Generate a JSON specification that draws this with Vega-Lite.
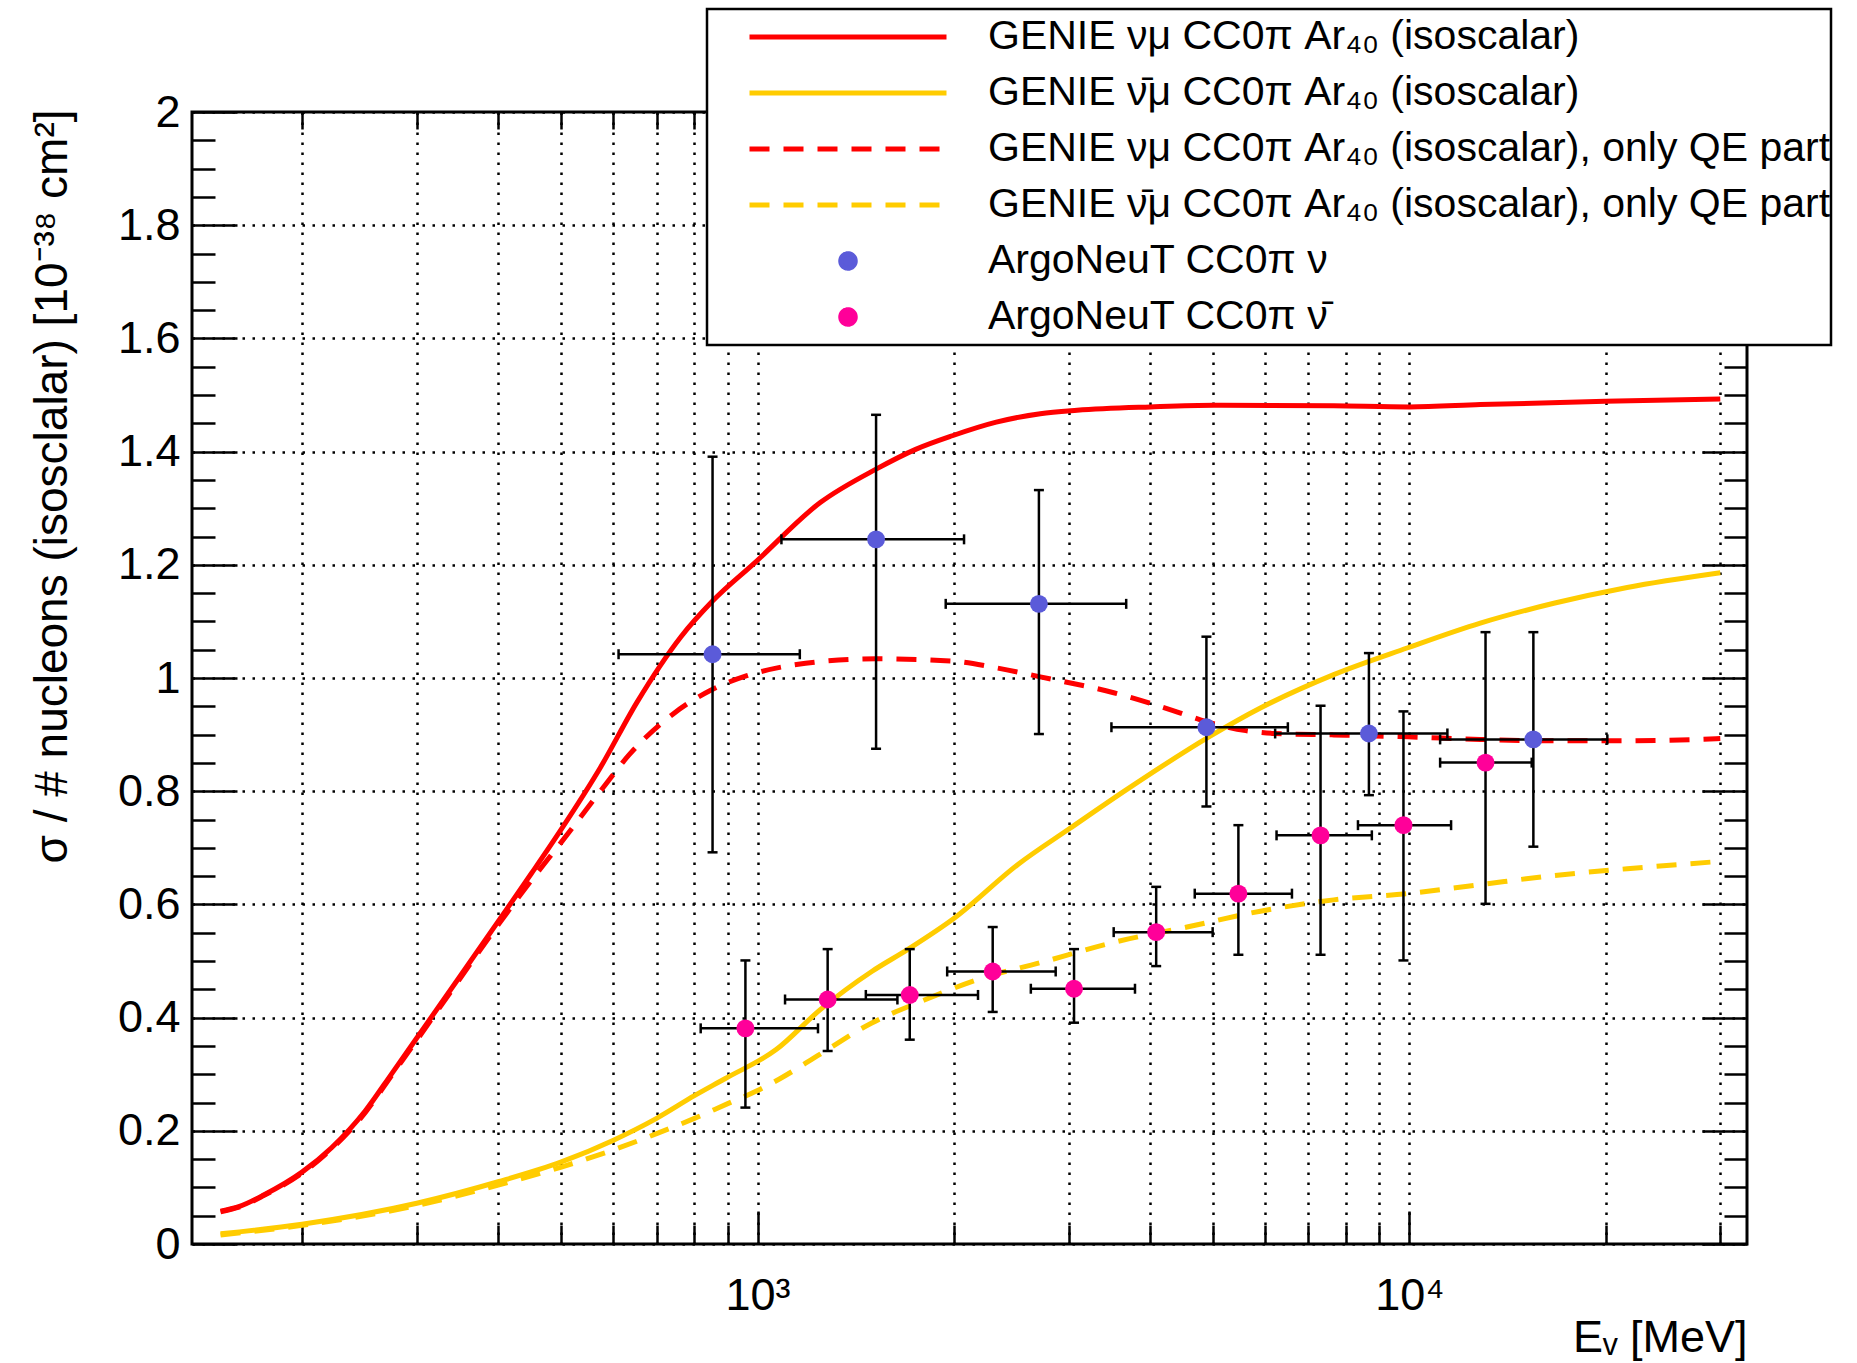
{
  "$schema": "https://vega.github.io/schema/vega-lite/v6.json",
  "width": 1555,
  "height": 1132,
  "autosize": {"type": "none"},
  "padding": {"left": 192, "top": 112, "right": 110, "bottom": 119},
  "background": "white",
  "config": {
    "view": {"stroke": "black", "strokeWidth": 3},
    "font": "Liberation Sans",
    "axis": {
      "domain": false,
      "grid": false,
      "gridColor": "black",
      "gridDash": [2.5, 7.5],
      "gridWidth": 2.5,
      "gridOpacity": 1,
      "tickColor": "black",
      "tickWidth": 2.5,
      "tickOpacity": 1,
      "labelColor": "black",
      "labelFont": "Liberation Sans",
      "labelFontSize": 45,
      "titleColor": "black",
      "titleFont": "Liberation Sans",
      "titleFontSize": 45,
      "titleFontWeight": "normal",
      "labelFlush": false,
      "labelOverlap": false
    }
  },
  "datasets": {
    "curves": [
      {"c": "nu", "E": 150, "s": 0.058}, {"c": "nu", "E": 160, "s": 0.066}, {"c": "nu", "E": 175, "s": 0.087},
      {"c": "nu", "E": 200, "s": 0.127}, {"c": "nu", "E": 222, "s": 0.17}, {"c": "nu", "E": 250, "s": 0.235},
      {"c": "nu", "E": 275, "s": 0.302}, {"c": "nu", "E": 300, "s": 0.364}, {"c": "nu", "E": 350, "s": 0.474},
      {"c": "nu", "E": 400, "s": 0.57}, {"c": "nu", "E": 450, "s": 0.655}, {"c": "nu", "E": 500, "s": 0.733},
      {"c": "nu", "E": 574, "s": 0.842}, {"c": "nu", "E": 653, "s": 0.957}, {"c": "nu", "E": 763, "s": 1.073},
      {"c": "nu", "E": 853, "s": 1.136}, {"c": "nu", "E": 989, "s": 1.203}, {"c": "nu", "E": 1248, "s": 1.31},
      {"c": "nu", "E": 1520, "s": 1.369}, {"c": "nu", "E": 1748, "s": 1.404}, {"c": "nu", "E": 1990, "s": 1.428},
      {"c": "nu", "E": 2324, "s": 1.452}, {"c": "nu", "E": 2715, "s": 1.467}, {"c": "nu", "E": 3092, "s": 1.473},
      {"c": "nu", "E": 4005, "s": 1.479}, {"c": "nu", "E": 5020, "s": 1.482}, {"c": "nu", "E": 7656, "s": 1.481},
      {"c": "nu", "E": 10000, "s": 1.479}, {"c": "nu", "E": 12850, "s": 1.483}, {"c": "nu", "E": 19970, "s": 1.489},
      {"c": "nu", "E": 30000, "s": 1.493},
      {"c": "nuqe", "E": 150, "s": 0.057}, {"c": "nuqe", "E": 160, "s": 0.065}, {"c": "nuqe", "E": 175, "s": 0.086},
      {"c": "nuqe", "E": 200, "s": 0.125}, {"c": "nuqe", "E": 222, "s": 0.168}, {"c": "nuqe", "E": 250, "s": 0.232},
      {"c": "nuqe", "E": 275, "s": 0.299}, {"c": "nuqe", "E": 300, "s": 0.36}, {"c": "nuqe", "E": 350, "s": 0.47},
      {"c": "nuqe", "E": 400, "s": 0.564}, {"c": "nuqe", "E": 450, "s": 0.643}, {"c": "nuqe", "E": 500, "s": 0.71},
      {"c": "nuqe", "E": 574, "s": 0.8}, {"c": "nuqe", "E": 636, "s": 0.865}, {"c": "nuqe", "E": 743, "s": 0.937},
      {"c": "nuqe", "E": 846, "s": 0.978}, {"c": "nuqe", "E": 963, "s": 1.004}, {"c": "nuqe", "E": 1185, "s": 1.026},
      {"c": "nuqe", "E": 1520, "s": 1.034}, {"c": "nuqe", "E": 1990, "s": 1.03}, {"c": "nuqe", "E": 2324, "s": 1.018},
      {"c": "nuqe", "E": 2715, "s": 1.002}, {"c": "nuqe", "E": 3519, "s": 0.974}, {"c": "nuqe", "E": 4328, "s": 0.943},
      {"c": "nuqe", "E": 4883, "s": 0.923}, {"c": "nuqe", "E": 5610, "s": 0.907}, {"c": "nuqe", "E": 6225, "s": 0.902},
      {"c": "nuqe", "E": 7656, "s": 0.8995}, {"c": "nuqe", "E": 9950, "s": 0.896}, {"c": "nuqe", "E": 12850, "s": 0.8915},
      {"c": "nuqe", "E": 16660, "s": 0.889}, {"c": "nuqe", "E": 21590, "s": 0.889}, {"c": "nuqe", "E": 30000, "s": 0.893},
      {"c": "nubar", "E": 150, "s": 0.018}, {"c": "nubar", "E": 200, "s": 0.035}, {"c": "nubar", "E": 300, "s": 0.072},
      {"c": "nubar", "E": 400, "s": 0.11}, {"c": "nubar", "E": 500, "s": 0.145}, {"c": "nubar", "E": 600, "s": 0.183},
      {"c": "nubar", "E": 700, "s": 0.222}, {"c": "nubar", "E": 800, "s": 0.262}, {"c": "nubar", "E": 891, "s": 0.292},
      {"c": "nubar", "E": 1068, "s": 0.3435}, {"c": "nubar", "E": 1248, "s": 0.414}, {"c": "nubar", "E": 1497, "s": 0.4815},
      {"c": "nubar", "E": 1703, "s": 0.521}, {"c": "nubar", "E": 2005, "s": 0.576}, {"c": "nubar", "E": 2512, "s": 0.671},
      {"c": "nubar", "E": 3012, "s": 0.734}, {"c": "nubar", "E": 3707, "s": 0.805}, {"c": "nubar", "E": 4927, "s": 0.896},
      {"c": "nubar", "E": 5908, "s": 0.947}, {"c": "nubar", "E": 7656, "s": 1.006}, {"c": "nubar", "E": 9922, "s": 1.053},
      {"c": "nubar", "E": 12850, "s": 1.097}, {"c": "nubar", "E": 16660, "s": 1.132}, {"c": "nubar", "E": 21590, "s": 1.16},
      {"c": "nubar", "E": 30000, "s": 1.186},
      {"c": "nubarqe", "E": 150, "s": 0.016}, {"c": "nubarqe", "E": 200, "s": 0.033}, {"c": "nubarqe", "E": 300, "s": 0.068},
      {"c": "nubarqe", "E": 400, "s": 0.104}, {"c": "nubarqe", "E": 500, "s": 0.136}, {"c": "nubarqe", "E": 600, "s": 0.166},
      {"c": "nubarqe", "E": 700, "s": 0.195}, {"c": "nubarqe", "E": 800, "s": 0.222}, {"c": "nubarqe", "E": 900, "s": 0.248},
      {"c": "nubarqe", "E": 1000, "s": 0.271}, {"c": "nubarqe", "E": 1082, "s": 0.292}, {"c": "nubarqe", "E": 1248, "s": 0.3355},
      {"c": "nubarqe", "E": 1497, "s": 0.3906}, {"c": "nubarqe", "E": 1794, "s": 0.43}, {"c": "nubarqe", "E": 2207, "s": 0.4696},
      {"c": "nubarqe", "E": 2715, "s": 0.497}, {"c": "nubarqe", "E": 3519, "s": 0.533}, {"c": "nubarqe", "E": 4560, "s": 0.56},
      {"c": "nubarqe", "E": 5908, "s": 0.588}, {"c": "nubarqe", "E": 7656, "s": 0.608}, {"c": "nubarqe", "E": 9922, "s": 0.619},
      {"c": "nubarqe", "E": 12850, "s": 0.635}, {"c": "nubarqe", "E": 16660, "s": 0.651}, {"c": "nubarqe", "E": 21590, "s": 0.663},
      {"c": "nubarqe", "E": 30000, "s": 0.676}
    ],
    "pts": [
      {"c": "anu", "E": 853, "s": 1.042, "Elo": 612, "Ehi": 1161, "slo": 0.692, "shi": 1.391},
      {"c": "anu", "E": 1520, "s": 1.245, "Elo": 1088, "Ehi": 2074, "slo": 0.875, "shi": 1.465},
      {"c": "anu", "E": 2702, "s": 1.131, "Elo": 1944, "Ehi": 3678, "slo": 0.901, "shi": 1.332},
      {"c": "anu", "E": 4883, "s": 0.913, "Elo": 3491, "Ehi": 6511, "slo": 0.773, "shi": 1.073},
      {"c": "anu", "E": 8670, "s": 0.902, "Elo": 6225, "Ehi": 11440, "slo": 0.793, "shi": 1.044},
      {"c": "anu", "E": 15500, "s": 0.8915, "Elo": 11150, "Ehi": 20130, "slo": 0.702, "shi": 1.081},
      {"c": "anubar", "E": 958, "s": 0.381, "Elo": 818, "Ehi": 1238, "slo": 0.241, "shi": 0.501},
      {"c": "anubar", "E": 1281, "s": 0.432, "Elo": 1102, "Ehi": 1639, "slo": 0.341, "shi": 0.521},
      {"c": "anubar", "E": 1712, "s": 0.44, "Elo": 1466, "Ehi": 2179, "slo": 0.361, "shi": 0.521},
      {"c": "anubar", "E": 2295, "s": 0.4815, "Elo": 1954, "Ehi": 2867, "slo": 0.41, "shi": 0.56},
      {"c": "anubar", "E": 3059, "s": 0.451, "Elo": 2626, "Ehi": 3794, "slo": 0.391, "shi": 0.521},
      {"c": "anubar", "E": 4089, "s": 0.551, "Elo": 3519, "Ehi": 4992, "slo": 0.491, "shi": 0.631},
      {"c": "anubar", "E": 5467, "s": 0.619, "Elo": 4686, "Ehi": 6606, "slo": 0.511, "shi": 0.74},
      {"c": "anubar", "E": 7308, "s": 0.722, "Elo": 6256, "Ehi": 8760, "slo": 0.511, "shi": 0.951},
      {"c": "anubar", "E": 9795, "s": 0.74, "Elo": 8341, "Ehi": 11590, "slo": 0.501, "shi": 0.941},
      {"c": "anubar", "E": 13090, "s": 0.8505, "Elo": 11150, "Ehi": 15410, "slo": 0.601, "shi": 1.081}
    ]
  },
  "resolve": {"axis": {"x": "independent", "y": "independent"}},
  "layer": [
    {
      "data": {"name": "curves"},
      "transform": [{"filter": "datum.c == 'nu'"}],
      "mark": {"type": "line", "strokeWidth": 5, "interpolate": "monotone"},
      "encoding": {
        "x": {"field": "E", "type": "quantitative", "scale": {"type": "log", "domain": [135.6, 32970], "nice": false},
          "axis": {"orient": "bottom", "values": [1000, 10000], "labelExpr": "datum.value == 1000 ? '10³' : '10⁴'",
            "tickSize": -33, "labelPadding": 98, "labelBaseline": "alphabetic", "labelAlign": "center", "grid": true,
            "title": "Eᵥ [MeV]", "titleX": 1555, "titleY": 107, "titleAlign": "right", "titleAnchor": "end", "titleBaseline": "alphabetic"}},
        "y": {"field": "s", "type": "quantitative", "scale": {"domain": [0, 2], "nice": false},
          "axis": {"orient": "left", "values": [0, 0.2, 0.4, 0.6, 0.8, 1, 1.2, 1.4, 1.6, 1.8, 2], "format": "~g",
            "tickSize": -45, "labelPadding": 57, "labelAlign": "right", "labelBaseline": "middle", "grid": true,
            "title": "σ / # nucleons (isosclalar) [10⁻³⁸ cm²]", "titleFontSize": 46, "titleAngle": -90, "titleX": -126, "titleY": -3,
            "titleAlign": "right", "titleAnchor": "end", "titleBaseline": "alphabetic"}},
        "color": {"field": "c", "type": "nominal",
          "scale": {"domain": ["nu", "nubar", "nuqe", "nubarqe", "anu", "anubar"],
            "range": ["#ff0000", "#ffcc00", "#ff0000", "#ffcc00", "#5b5bd9", "#ff0099"]},
          "legend": {
            "orient": "none", "legendX": 515, "legendY": -103, "title": null, "zindex": 1,
            "padding": 0, "rowPadding": 0, "clipHeight": 56,
            "symbolSize": 38809, "symbolStrokeWidth": 5, "symbolOffset": 40, "labelOffset": 39,
            "labelFont": "Liberation Sans", "labelFontSize": 41, "labelColor": "black", "labelLimit": 2000, "labelBaseline": "middle",
            "strokeColor": "black", "fillColor": "white",
            "labelExpr": "datum.value == 'nu' ? 'GENIE νμ CC0π Ar₄₀ (isoscalar)' : datum.value == 'nubar' ? 'GENIE \u03bd\u0304μ CC0π Ar₄₀ (isoscalar)' : datum.value == 'nuqe' ? 'GENIE νμ CC0π Ar₄₀ (isoscalar), only QE part' : datum.value == 'nubarqe' ? 'GENIE \u03bd\u0304μ CC0π Ar₄₀ (isoscalar), only QE part' : datum.value == 'anu' ? 'ArgoNeuT CC0π ν' : 'ArgoNeuT CC0π \u03bd\u0304'",
            "encode": {
              "legend": {"update": {"strokeWidth": {"value": 2.5}}},
              "symbols": {
                "update": {
                  "shape": {"signal": "(datum.value == 'anu' || datum.value == 'anubar') ? 'M-0.0736,0A0.0736,0.0736 0 1,0 0.0736,0A0.0736,0.0736 0 1,0 -0.0736,0Z' : 'stroke'"},
                  "strokeDash": {"signal": "(datum.value == 'nuqe' || datum.value == 'nubarqe') ? [20, 14] : [1, 0]"},
                  "fill": {"signal": "datum.value == 'anu' ? '#5b5bd9' : datum.value == 'anubar' ? '#ff0099' : 'transparent'"},
                  "stroke": {"signal": "(datum.value == 'nu' || datum.value == 'nuqe') ? '#ff0000' : (datum.value == 'nubar' || datum.value == 'nubarqe') ? '#ffcc00' : datum.value == 'anu' ? '#5b5bd9' : '#ff0099'"},
                  "opacity": {"value": 1}
                }
              }
            }
          }
        }
      }
    },
    {
      "data": {"name": "curves"},
      "transform": [{"filter": "datum.c == 'nuqe'"}],
      "mark": {"type": "line", "strokeWidth": 5, "strokeDash": [20, 14], "interpolate": "monotone", "color": "#ff0000"},
      "encoding": {
        "x": {"field": "E", "type": "quantitative", "scale": {"type": "log", "domain": [135.6, 32970], "nice": false},
          "axis": {"orient": "bottom", "values": [200, 300, 400, 500, 600, 700, 800, 900, 2000, 3000, 4000, 5000, 6000, 7000, 8000, 9000, 20000, 30000],
            "labels": false, "tickSize": -19, "grid": true, "title": null}},
        "y": {"field": "s", "type": "quantitative", "scale": {"domain": [0, 2], "nice": false},
          "axis": {"orient": "left", "values": [0.05, 0.1, 0.15, 0.25, 0.3, 0.35, 0.45, 0.5, 0.55, 0.65, 0.7, 0.75, 0.85, 0.9, 0.95, 1.05, 1.1, 1.15, 1.25, 1.3, 1.35, 1.45, 1.5, 1.55, 1.65, 1.7, 1.75, 1.85, 1.9, 1.95],
            "labels": false, "tickSize": -23, "grid": false, "title": null}}
      }
    },
    {
      "data": {"name": "curves"},
      "transform": [{"filter": "datum.c == 'nubar'"}],
      "mark": {"type": "line", "strokeWidth": 5, "interpolate": "monotone", "color": "#ffcc00"},
      "encoding": {
        "x": {"field": "E", "type": "quantitative", "scale": {"type": "log", "domain": [135.6, 32970], "nice": false},
          "axis": {"orient": "top", "values": [1000, 10000], "labels": false, "tickSize": -33, "grid": false, "title": null}},
        "y": {"field": "s", "type": "quantitative", "scale": {"domain": [0, 2], "nice": false},
          "axis": {"orient": "right", "values": [0, 0.2, 0.4, 0.6, 0.8, 1, 1.2, 1.4, 1.6, 1.8, 2], "labels": false, "tickSize": -45, "grid": false, "title": null}}
      }
    },
    {
      "data": {"name": "curves"},
      "transform": [{"filter": "datum.c == 'nubarqe'"}],
      "mark": {"type": "line", "strokeWidth": 5, "strokeDash": [20, 14], "interpolate": "monotone", "color": "#ffcc00"},
      "encoding": {
        "x": {"field": "E", "type": "quantitative", "scale": {"type": "log", "domain": [135.6, 32970], "nice": false},
          "axis": {"orient": "top", "values": [200, 300, 400, 500, 600, 700, 800, 900, 2000, 3000, 4000, 5000, 6000, 7000, 8000, 9000, 20000, 30000],
            "labels": false, "tickSize": -17, "grid": false, "title": null}},
        "y": {"field": "s", "type": "quantitative", "scale": {"domain": [0, 2], "nice": false},
          "axis": {"orient": "right", "values": [0.05, 0.1, 0.15, 0.25, 0.3, 0.35, 0.45, 0.5, 0.55, 0.65, 0.7, 0.75, 0.85, 0.9, 0.95, 1.05, 1.1, 1.15, 1.25, 1.3, 1.35, 1.45, 1.5, 1.55, 1.65, 1.7, 1.75, 1.85, 1.9, 1.95],
            "labels": false, "tickSize": -23, "grid": false, "title": null}}
      }
    },
    {
      "data": {"name": "pts"},
      "mark": {"type": "rule", "color": "black", "strokeWidth": 2.5},
      "encoding": {
        "x": {"field": "E", "type": "quantitative", "scale": {"type": "log", "domain": [135.6, 32970], "nice": false}, "axis": null},
        "y": {"field": "slo", "type": "quantitative", "scale": {"domain": [0, 2], "nice": false}, "axis": null},
        "y2": {"field": "shi"}
      }
    },
    {
      "data": {"name": "pts"},
      "mark": {"type": "rule", "color": "black", "strokeWidth": 2.5},
      "encoding": {
        "x": {"field": "Elo", "type": "quantitative", "scale": {"type": "log", "domain": [135.6, 32970], "nice": false}, "axis": null},
        "x2": {"field": "Ehi"},
        "y": {"field": "s", "type": "quantitative", "scale": {"domain": [0, 2], "nice": false}, "axis": null}
      }
    },
    {
      "data": {"name": "pts"},
      "mark": {"type": "tick", "orient": "horizontal", "color": "black", "size": 10, "thickness": 2.5, "opacity": 1},
      "encoding": {
        "x": {"field": "E", "type": "quantitative", "scale": {"type": "log", "domain": [135.6, 32970], "nice": false}, "axis": null},
        "y": {"field": "slo", "type": "quantitative", "scale": {"domain": [0, 2], "nice": false}, "axis": null}
      }
    },
    {
      "data": {"name": "pts"},
      "mark": {"type": "tick", "orient": "horizontal", "color": "black", "size": 10, "thickness": 2.5, "opacity": 1},
      "encoding": {
        "x": {"field": "E", "type": "quantitative", "scale": {"type": "log", "domain": [135.6, 32970], "nice": false}, "axis": null},
        "y": {"field": "shi", "type": "quantitative", "scale": {"domain": [0, 2], "nice": false}, "axis": null}
      }
    },
    {
      "data": {"name": "pts"},
      "mark": {"type": "tick", "orient": "vertical", "color": "black", "size": 10, "thickness": 2.5, "opacity": 1},
      "encoding": {
        "x": {"field": "Elo", "type": "quantitative", "scale": {"type": "log", "domain": [135.6, 32970], "nice": false}, "axis": null},
        "y": {"field": "s", "type": "quantitative", "scale": {"domain": [0, 2], "nice": false}, "axis": null}
      }
    },
    {
      "data": {"name": "pts"},
      "mark": {"type": "tick", "orient": "vertical", "color": "black", "size": 10, "thickness": 2.5, "opacity": 1},
      "encoding": {
        "x": {"field": "Ehi", "type": "quantitative", "scale": {"type": "log", "domain": [135.6, 32970], "nice": false}, "axis": null},
        "y": {"field": "s", "type": "quantitative", "scale": {"domain": [0, 2], "nice": false}, "axis": null}
      }
    },
    {
      "data": {"name": "pts"},
      "transform": [{"filter": "datum.c == 'anu'"}],
      "mark": {"type": "point", "shape": "circle", "filled": true, "size": 320, "opacity": 1, "strokeWidth": 0, "color": "#5b5bd9"},
      "encoding": {
        "x": {"field": "E", "type": "quantitative", "scale": {"type": "log", "domain": [135.6, 32970], "nice": false}, "axis": null},
        "y": {"field": "s", "type": "quantitative", "scale": {"domain": [0, 2], "nice": false}, "axis": null}
      }
    },
    {
      "data": {"name": "pts"},
      "transform": [{"filter": "datum.c == 'anubar'"}],
      "mark": {"type": "point", "shape": "circle", "filled": true, "size": 320, "opacity": 1, "strokeWidth": 0, "color": "#ff0099"},
      "encoding": {
        "x": {"field": "E", "type": "quantitative", "scale": {"type": "log", "domain": [135.6, 32970], "nice": false}, "axis": null},
        "y": {"field": "s", "type": "quantitative", "scale": {"domain": [0, 2], "nice": false}, "axis": null}
      }
    }
  ]
}
